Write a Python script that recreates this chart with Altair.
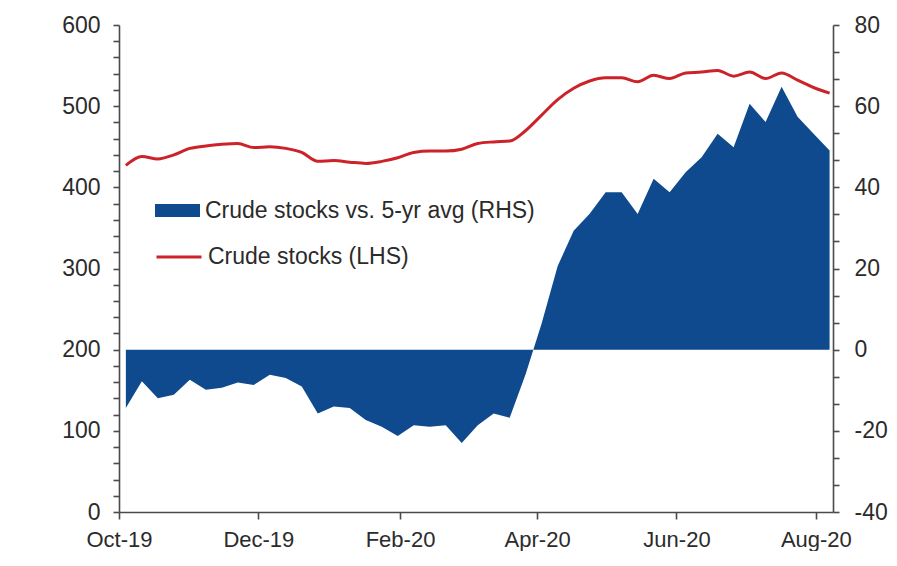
import altair as alt
import pandas as pd

# ---- data (weekly) ----
week_start = "2019-10-04"
n_weeks = 45
dates = pd.date_range(week_start, periods=n_weeks, freq="7D").strftime("%Y-%m-%d").tolist()

stocks_vs_5yr = [
    -14.4, -7.8, -12.0, -11.1, -7.4, -9.9, -9.4, -8.1, -8.7, -6.2,
    -7.0, -9.1, -15.7, -14.0, -14.4, -17.3, -19.0, -21.3, -18.6, -19.0,
    -18.6, -23.0, -18.6, -15.7, -16.8, -6.0, 6.5, 20.6, 29.3, 33.5,
    38.8, 38.8, 33.4, 42.1, 38.8, 43.7, 47.4, 53.2, 49.9, 60.6,
    56.1, 64.8, 57.4, 53.2, 49.1,
]
crude_stocks = [
    427, 438, 435, 440, 448, 451, 453, 454, 449, 450,
    448, 443, 432, 433, 431, 429.5, 432, 436.5, 443, 444.7,
    444.7, 447, 454, 456, 457, 470, 489, 508, 522, 531,
    535, 535, 530, 538, 534, 541, 542, 544, 537, 542,
    534, 541, 532, 523, 516,
]

area_name = "Crude stocks vs. 5-yr avg (RHS)"
line_name = "Crude stocks (LHS)"

left_ticks = [0, 20, 40, 60, 80, 100, 120, 140, 160, 180, 200, 220, 240, 260, 280,
              300, 320, 340, 360, 380, 400, 420, 440, 460, 480, 500, 520, 540, 560, 580, 600]
right_ticks = [-40, -33.333, -26.667, -20, -13.333, -6.667, 0, 6.667, 13.333, 20,
               26.667, 33.333, 40, 46.667, 53.333, 60, 66.667, 73.333, 80]
x_tick_months = [(2019, 10), (2019, 12), (2020, 2), (2020, 4), (2020, 6), (2020, 8)]

BLUE = "#0f4a8f"
RED = "#cc2229"
TEXT = "#2b2b2b"
AXIS = "#4a4a4a"
FONT = "Liberation Sans, Arial, sans-serif"

df = pd.DataFrame({
    "date": dates,
    "rhs": stocks_vs_5yr,
    "lhs": crude_stocks,
    "s_area": area_name,
    "s_line": line_name,
})

x_scale = alt.Scale(
    type="utc",
    domain=[alt.DateTime(year=2019, month=10, date=1, utc=True),
            alt.DateTime(year=2020, month=8, date=8, hours=12, utc=True)],
)
x_axis = alt.Axis(
    values=[alt.DateTime(year=y, month=m, date=1, utc=True) for y, m in x_tick_months],
    format="%b-%y", title=None, tickSize=7, labelPadding=10, labelFlush=False,
    labelOverlap=False, labelFontSize=22,
)

area = alt.Chart(df).mark_area(interpolate="linear").encode(
    x=alt.X("date:T", scale=x_scale, axis=x_axis),
    y=alt.Y("rhs:Q", scale=alt.Scale(domain=[-40, 80], nice=False, zero=False),
            axis=alt.Axis(orient="right", values=right_ticks, title=None, tickSize=6,
                          labelPadding=15,
                          labelExpr="round(datum.value*3) % 60 == 0 ? toString(round(datum.value)) : ''")),
    y2=alt.datum(0),
    fill=alt.Fill("s_area:N", scale=alt.Scale(domain=[area_name], range=[BLUE]),
                  legend=alt.Legend(orient="none", legendX=36, legendY=163, title=None,
                                    symbolType="M-1,-0.29L1,-0.29L1,0.29L-1,0.29Z",
                                    symbolSize=2025, symbolStrokeWidth=0,
                                    labelFontSize=23, labelOffset=5, padding=0)),
)

line = alt.Chart(df).mark_line(strokeWidth=3, interpolate="monotone").encode(
    x=alt.X("date:T", scale=x_scale, axis=x_axis),
    y=alt.Y("lhs:Q", scale=alt.Scale(domain=[0, 600], nice=False),
            axis=alt.Axis(orient="left", values=left_ticks, title=None, tickSize=6,
                          labelPadding=13,
                          labelExpr="datum.value % 100 == 0 ? toString(datum.value) : ''")),
    stroke=alt.Stroke("s_line:N", scale=alt.Scale(domain=[line_name], range=[RED]),
                      legend=alt.Legend(orient="none", legendX=36, legendY=208, title=None,
                                        symbolType="stroke", symbolSize=2025,
                                        symbolStrokeWidth=3,
                                        labelFontSize=23, labelOffset=5, padding=0)),
)

chart = alt.layer(area, line).resolve_scale(y="independent").properties(
    width=714, height=487,
    autosize=alt.AutoSizeParams(type="none"),
    padding={"left": 111, "top": 17, "right": 55, "bottom": 39},
    background="white",
).configure_axis(
    labelFont=FONT, labelFontSize=23, labelColor=TEXT,
    domainColor=AXIS, domainWidth=1.6, tickColor=AXIS, tickWidth=1.6, grid=False,
).configure_legend(
    labelFont=FONT, labelColor=TEXT, labelLimit=0,
).configure_view(stroke=None)

chart.save("out.html", embed_options={"renderer": "svg", "actions": False})
